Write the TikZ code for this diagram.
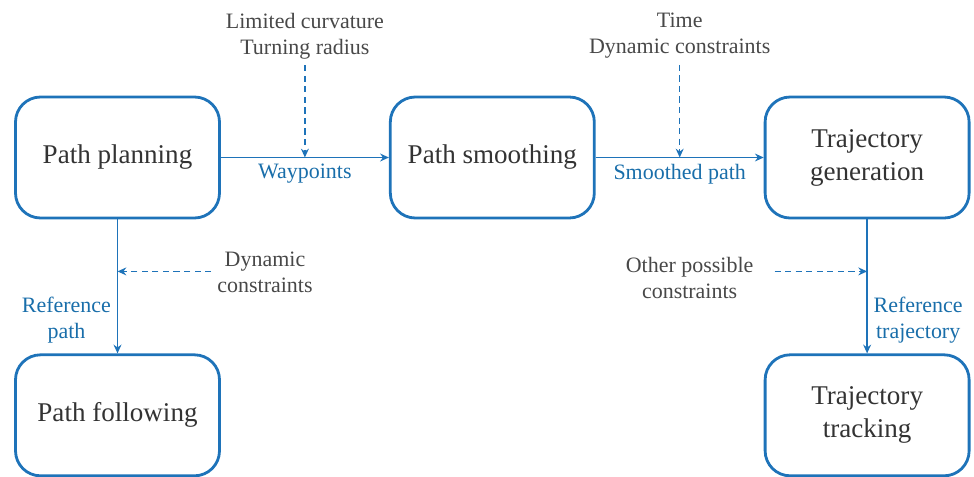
\documentclass[tikz,border=0pt]{standalone}
\usepackage{fontspec}
\setmainfont{Liberation Serif}
\usetikzlibrary{positioning, arrows.meta, calc}
\definecolor{boxblue}{RGB}{30,115,185}
\definecolor{lblblue}{RGB}{25,110,170}
\definecolor{txtgray}{RGB}{72,72,72}
\tikzset{
    >={Stealth[length=5pt,width=4.5pt]}, % small filled heads
    node distance=3.36cm, % gap between the blocks
    block/.style={draw=boxblue, line width=1.6pt, rounded corners=0.5cm,
        minimum width=4.08cm, minimum height=2.42cm, align=center,
        text=black!80, font=\fontsize{15.4}{18.8}\selectfont},
    flow/.style={->, draw=boxblue, line width=0.8pt},
    hint/.style={->, draw=boxblue, line width=0.8pt, dash pattern=on 3.5pt off 2.5pt},
    signal/.style={text=lblblue, align=center, font=\fontsize{12.5}{14.8}\selectfont},
    note/.style={text=txtgray, align=center, font=\fontsize{12.5}{14.8}\selectfont},
}
\begin{document}
\begin{tikzpicture}
    \useasboundingbox (0,0) rectangle (19.48,-9.52);

    \node[block] (plan) at (2.35,-3.15) {Path planning};
    \node[block] (smooth) [right=of plan] {Path smoothing};
    \node[block] (gen) [right=of smooth] {Trajectory\\generation};
    \node[block] (follow) [below=2.68cm of plan] {Path following};
    \node[block] (track) [below=2.68cm of gen] {Trajectory\\tracking};

    % side inputs
    \coordinate (wp) at ($(plan.east)!0.5!(smooth.west)$);
    \coordinate (sp) at ($(smooth.east)!0.5!(gen.west)$);
    \coordinate (dl) at ($(plan.south)+(0,-1.04)$);
    \coordinate (dr) at ($(gen.south)+(0,-1.04)$);

    \node[note] (curv) at ($(wp)+(0,2.43)$) {Limited curvature\\Turning radius};
    \node[note] (time) at ($(sp)+(0,2.43)$) {Time\\Dynamic constraints};
    \node[note] (dyn) at ($(dl)+(2.95,-0.02)$) {Dynamic\\constraints};
    \node[note] (other) at ($(dr)+(-3.55,-0.14)$) {Other possible\\constraints};

    \path
        (plan) edge[flow] node[signal, below] {Waypoints} (smooth)
        (smooth) edge[flow] node[signal, below] {Smoothed path} (gen)
        (plan) edge[flow] node[signal, left, pos=0.75] {Reference\\path} (follow)
        (gen) edge[flow] node[signal, right, pos=0.75] {Reference\\trajectory} (track);

    \draw[hint] (curv.south) -- (wp);
    \draw[hint] (time.south) -- (sp);
    \draw[hint] (dyn.west |- dl) -- (dl);
    \draw[hint] ($(other.east |- dr)+(0.3,0)$) -- (dr);
\end{tikzpicture}
\end{document}
